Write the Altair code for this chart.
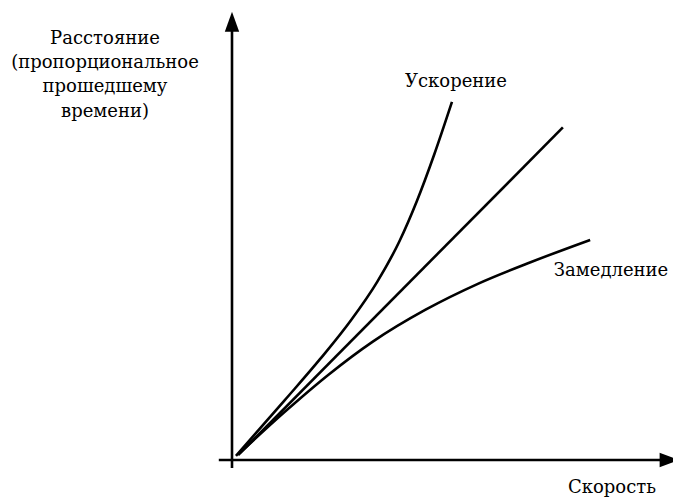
import altair as alt
import pandas as pd

# Velocity (x) and distance (y) in arbitrary units
acc_x = [0.9, 12.0, 20.0, 27.0, 33.0, 38.0, 42.0, 46.0, 50.0]
acc_y = [0.9, 13.3, 22.4, 31.0, 39.6, 48.5, 57.5, 68.0, 79.6]

lin_x = [1.4, 75.2]
lin_y = [1.1, 73.9]

dec_x = [1.8, 12.0, 22.0, 32.0, 44.0, 56.0, 68.0, 81.4]
dec_y = [1.6, 10.7, 19.0, 26.3, 33.4, 39.2, 44.0, 48.9]

y_label = ["Расстояние", "(пропорциональное", "прошедшему", "времени)"]
x_label = "Скорость"
acc_label = "Ускорение"
dec_label = "Замедление"

rows = []
for name, xs_, ys_ in [("acc", acc_x, acc_y), ("lin", lin_x, lin_y), ("dec", dec_x, dec_y)]:
    for i, (a, b) in enumerate(zip(xs_, ys_)):
        rows.append({"series": name, "order": i, "v": a, "d": b})
df = pd.DataFrame(rows)

FONT = "DejaVu Serif"
xs = alt.Scale(domain=[-5, 100], nice=False, zero=False)
ys = alt.Scale(domain=[-4, 100], nice=False, zero=False)
X = lambda f: alt.X(f, scale=xs, axis=None)
Y = lambda f: alt.Y(f, scale=ys, axis=None)

curves = alt.Chart(df).mark_line(color="black", strokeWidth=2.6, interpolate="monotone").encode(
    x=X("v:Q"), y=Y("d:Q"), detail="series:N", order="order:Q",
)

axes_df = pd.DataFrame({"v": [0, -3], "d": [-1.8, 0], "v2": [0, 98], "d2": [96, 0]})
axes = alt.Chart(axes_df).mark_rule(color="black", strokeWidth=2.6).encode(
    x=X("v:Q"), y=Y("d:Q"), x2="v2:Q", y2="d2:Q"
)

y_arrow = alt.Chart(pd.DataFrame({"v": [0], "d": [97.4]})).mark_point(
    shape="M0,-1L0.72,1L-0.72,1Z", size=400, filled=True, color="black", opacity=1, strokeWidth=0
).encode(x=X("v:Q"), y=Y("d:Q"))
x_arrow = alt.Chart(pd.DataFrame({"v": [99.4], "d": [0]})).mark_point(
    shape="M1,0L-1,-0.75L-1,0.75Z", size=380, filled=True, color="black", opacity=1, strokeWidth=0
).encode(x=X("v:Q"), y=Y("d:Q"))

def label(txt, px, py):
    return alt.Chart(pd.DataFrame({"t": [txt]})).mark_text(
        font=FONT, fontSize=18, color="black", align="center", baseline="alphabetic"
    ).encode(x=alt.value(px), y=alt.value(py), text="t:N")

t_acc = label(acc_label, 246, 77)
t_dec = label(dec_label, 401, 266)
t_x = label(x_label, 402, 483)
t_y = [label(s, -105, 34 + 24.2 * i) for i, s in enumerate(y_label)]

chart = alt.layer(axes, y_arrow, x_arrow, curves, t_acc, t_dec, t_x, *t_y).properties(
    width=462, height=468,
    autosize=alt.AutoSizeParams(type="none"),
    padding={"left": 202, "top": 2, "right": 1, "bottom": 19},
).configure_view(stroke=None)

chart.save("out.html", embed_options={"renderer": "svg", "actions": False})
